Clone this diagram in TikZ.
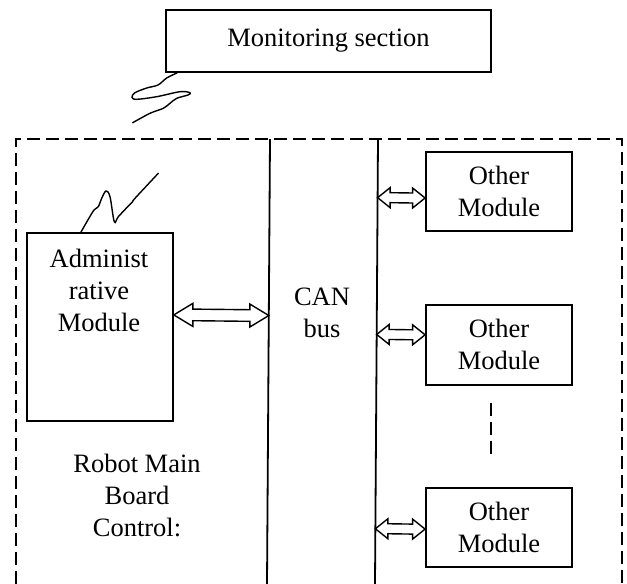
\documentclass[tikz,border=0pt]{standalone}
\usepackage{fontspec}
\setmainfont{Liberation Serif}
\usetikzlibrary{positioning, calc}

\begin{document}
\begin{tikzpicture}[
  x=1pt, y=-1pt,
  font={\fontsize{26.5}{32}\selectfont},
  box/.style={draw, line width=1.8pt, minimum width=146pt, align=center, inner sep=0pt},
  txt/.style={align=center, inner sep=0pt},
  bus/.style={line width=1.8pt},
  frame/.style={line width=1.6pt, dash pattern=on 13pt off 6pt},
  link/.style={line width=1.4pt, fill=white},
  wave/.style={line width=1.4pt, line cap=round, smooth, tension=0.55}
]
\useasboundingbox (0,0) rectangle (627,584);

\node[box, minimum width=325pt, minimum height=62pt] (mon) at (328.5,41) {Monitoring section};

% outer board and bus lines
\draw[frame] (16,584) -- (16,139) -- (622,139) -- (622,584);
\coordinate (busAtop) at (270,139); \coordinate (busAbot) at (267,584);
\coordinate (busBtop) at (378,139); \coordinate (busBbot) at (375,584);
\draw[bus] (busAtop) -- (busAbot);
\draw[bus] (busBtop) -- (busBbot);

\node[box, minimum height=188pt, anchor=north west] (adm) at (26,232) {};
\node[txt] (admtxt) at (99,290) {Administ\\rative\\Module};
\node[txt] (can) at (322,313) {CAN\\bus};
\node[txt] (board) at (137,495) {Robot Main\\Board\\Control:};

\node[box, minimum height=79pt] (oth1) at (499,191.5) {Other\\Module};
\node[box, minimum height=80pt, below=72pt of oth1] (oth2) {Other\\Module};
\node[box, minimum height=79pt, below=101pt of oth2] (oth3) {Other\\Module};
\draw[frame] ($(oth2.south)+(-8,17)$) -- ($(oth3.north)+(-8,-28)$);

% links to the bus
\coordinate (admL) at ($(adm.east)+(0,-12)$);
\coordinate (canA) at ($(busAtop)!(admL)!(busAbot)$);
\coordinate (m1) at ($(oth1.west)+(0,6.5)$);
\coordinate (m2) at ($(oth2.west)+(0,-10)$);
\coordinate (m3) at ($(oth3.west)+(0,2)$);
\coordinate (p1) at ($(busBtop)!(m1)!(busBbot)$);
\coordinate (p2) at ($(busBtop)!(m2)!(busBbot)$);
\coordinate (p3) at ($(busBtop)!(m3)!(busBbot)$);
\foreach \a/\b/\h/\w/\s in {admL/canA/19/11.5/5.8, p1/m1/12.5/10/5, p2/m2/12.5/10/5, p3/m3/12.5/10/5}
  \draw[link] (\a) -- ($(\a)+(\h,-\w)$) -- ($(\a)+(\h,-\s)$) -- ($(\b)+(-\h,-\s)$)
    -- ($(\b)+(-\h,-\w)$) -- (\b) -- ($(\b)+(-\h,\w)$) -- ($(\b)+(-\h,\s)$)
    -- ($(\a)+(\h,\s)$) -- ($(\a)+(\h,\w)$) -- cycle;

% wireless marks
\coordinate (w1) at ($(mon.south west)+(12,0)$);
\coordinate (w2) at ($(adm.north west)+(55,0)$);
\draw[wave] plot coordinates {(w1) (166.7,78) (158,85) (146.7,88) (135,92.7) (132,97.3)
  (136.7,99.3) (156.7,96.7) (180,91.7) (190,92.7) (188,95) (176.7,98.3) (170,103.3)
  (163.3,108.3) (150,113.3) (132.7,122.7)};
\draw[wave] plot coordinates {(w2) (87.3,221) (94,210) (98.3,206.7) (101.7,198.3) (106,191)
  (110,196.7) (114.3,221.7) (118.3,216.7) (129.3,205) (132.7,201.7) (135,198.3) (158.3,173.3)};
\end{tikzpicture}
\end{document}
